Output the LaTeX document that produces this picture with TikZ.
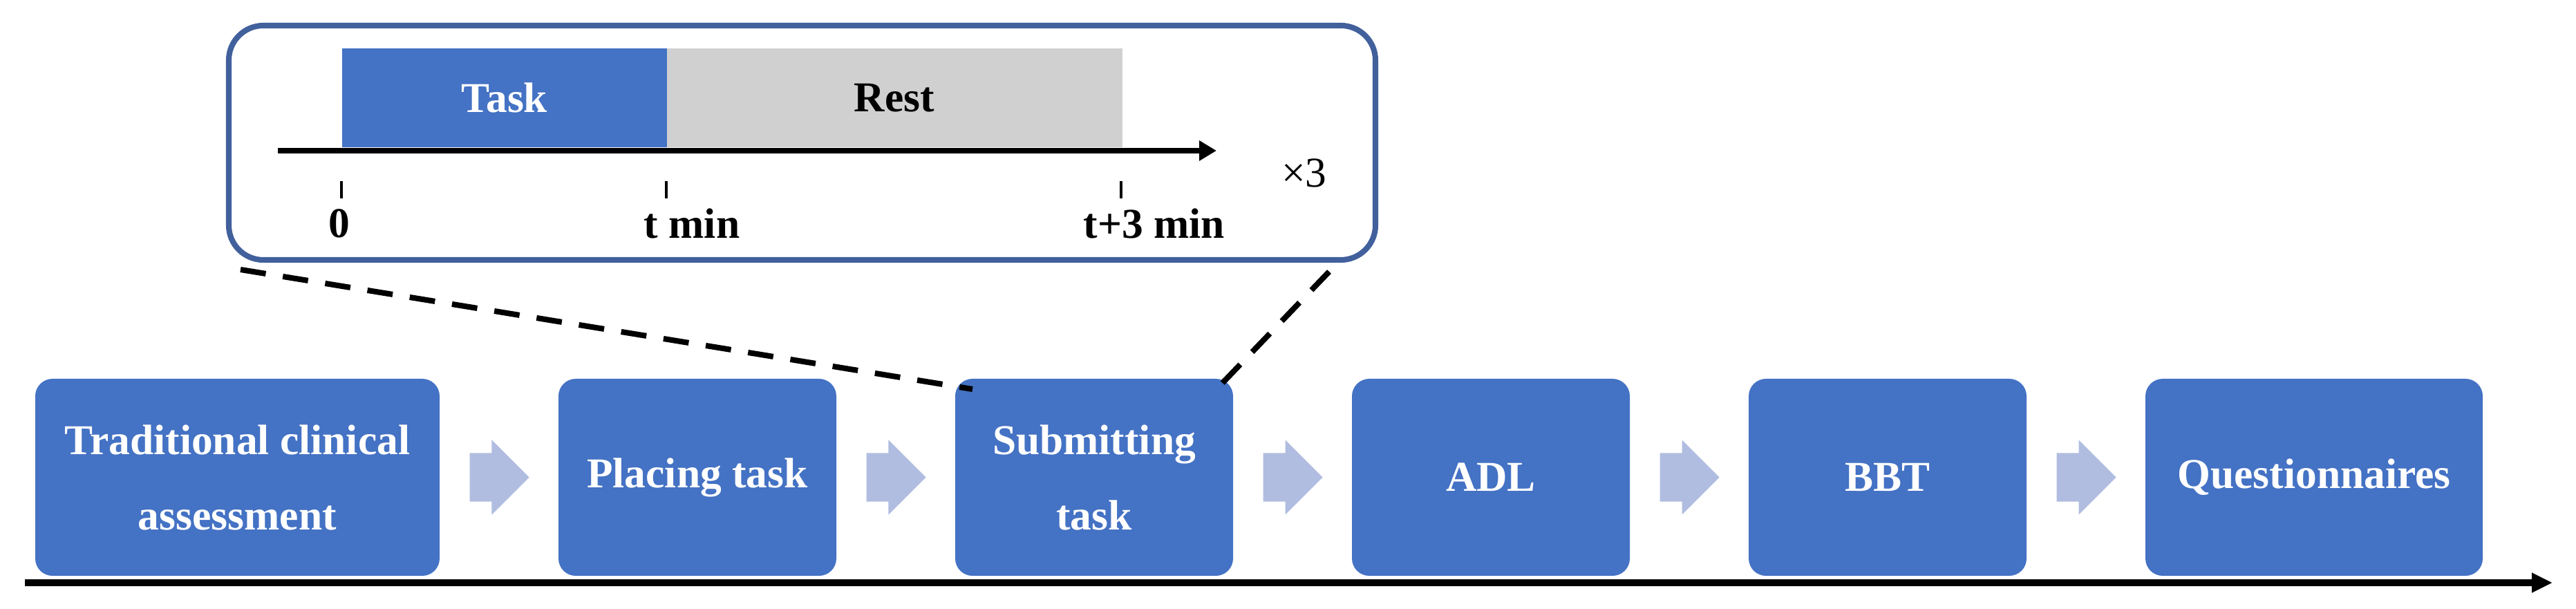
\documentclass[tikz,border=0pt]{standalone}
\usepackage{fontspec}
\setmainfont{Liberation Serif}
\usetikzlibrary{arrows.meta,positioning,calc,shapes.arrows}
\definecolor{boxBlue}{HTML}{4472C4}
\definecolor{frameBlue}{HTML}{41609C}
\definecolor{restGray}{HTML}{D0D0D0}
\definecolor{arrowBlue}{HTML}{B0BDE0}

\begin{document}
\begin{tikzpicture}[line width=2.3pt,
				node distance=1.72cm,
				font=\fontsize{17.5}{31}\selectfont\bfseries,
				stepBox/.style={fill=boxBlue,rounded corners=0.25cm,minimum height=2.85cm,minimum width=4.02cm,inner sep=0pt,outer sep=0pt,text=white,align=center},
				flowArrow/.style={single arrow,fill=arrowBlue,text height=0.62cm,text depth=0pt,text width=0pt,minimum height=0.86cm,single arrow head extend=0.19cm,inner sep=0pt,outer sep=0pt,xshift=-0.17cm},
				zoomFrame/.style={draw=frameBlue,rounded corners=0.5cm,minimum width=16.59cm,minimum height=3.39cm,inner sep=0pt,outer sep=0pt},
				taskBar/.style={fill=boxBlue,minimum height=1.43cm,inner sep=0pt,outer sep=0pt,text=white},
				restBar/.style={fill=restGray,minimum height=1.43cm,inner sep=0pt,outer sep=0pt},
				tickMark/.style={line width=1.3pt},
				zoomLine/.style={dash pattern=on 0.37cm off 0.25cm}]
			\useasboundingbox (0,0) rectangle (37.27,8.81);
			% one trial, repeated three times
			\node [zoomFrame] (frame) at (11.605,6.745) {};
			\node [restBar, minimum width=6.60cm] (rest) at (12.94,7.395) {Rest};
			\node [taskBar, minimum width=4.70cm, left=-0.01cm of rest] (task) {Task};
			\coordinate (t0) at (4.02,6.63);
			\coordinate (tEnd) at (17.60,6.63);
			\draw [-{Triangle[length=0.25cm,width=0.28cm]}] (t0) -- (tEnd);
			\foreach \x/\lx/\lab [count=\i] in {4.94/4.91/0, 9.64/10.01/t min, 16.22/16.70/t+3 min} {
					\draw [tickMark] (\x,6.19) -- (\x,5.94);
					\node (lab\i) at (\lx,5.58) {\lab};
				}
			\node [font=\fontsize{17.5}{31}\selectfont\mdseries] (reps) at (18.87,6.31) {×3};
			% procedure
			\node [stepBox, minimum width=5.85cm] (tca) at (3.435,1.905) {Traditional clinical\\assessment};
			\node [stepBox, right=of tca] (place) {Placing task};
			\node [stepBox, right=of place] (submit) {Submitting\\task};
			\node [stepBox, right=of submit] (adl) {ADL};
			\node [stepBox, right=of adl] (bbt) {BBT};
			\node [stepBox, right=of bbt, minimum width=4.88cm] (quest) {Questionnaires};
			\foreach \a/\b in {tca/place, place/submit, submit/adl, adl/bbt, bbt/quest}
			\node [flowArrow] (arr-\a) at ($(\a.east)!0.5!(\b.west)$) {};
			\coordinate (s0) at (0.36,0.38);
			\coordinate (sEnd) at (36.93,0.38);
			\draw [line width=2.8pt, -{Triangle[length=0.3cm,width=0.27cm]}] (s0) -- (sEnd);
			% zoom lines
			\draw [zoomLine] ($(frame.south west)+(0.17,-0.14)$) -- ($(submit.north west)+(0.25,-0.15)$);
			\draw [zoomLine] ($(frame.south east)+(-0.67,-0.17)$) -- ($(submit.north east)+(-0.21,-0.12)$);
		\end{tikzpicture}
\end{document}
